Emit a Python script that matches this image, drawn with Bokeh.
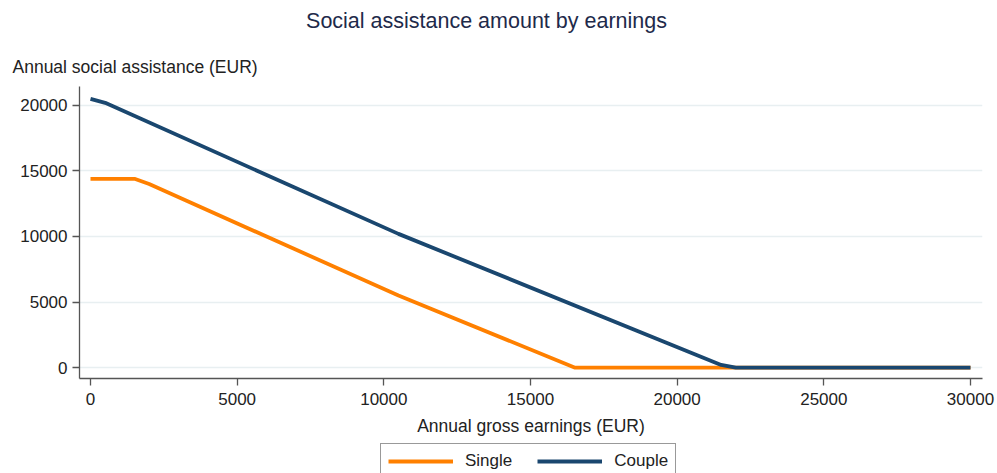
from bokeh.plotting import figure
from bokeh.models import Range1d, Label, Title, Legend, LegendItem
from bokeh.layouts import column
from bokeh.embed import file_html
from bokeh.resources import INLINE

# ---- data ----
earnings_single = [0, 1500, 2000, 10500, 16500, 30000]
assist_single = [14400, 14400, 14000, 5500, 0, 0]
earnings_couple = [0, 500, 10500, 21500, 22000, 30000]
assist_couple = [20500, 20200, 10200, 200, 0, 0]
x_ticks = [0, 5000, 10000, 15000, 20000, 25000, 30000]
y_ticks = [0, 5000, 10000, 15000, 20000]
series_names = ["Single", "Couple"]

title_text = "Social assistance amount by earnings"
ylabel_text = "Annual social assistance (EUR)"
xlabel_text = "Annual gross earnings (EUR)"

FONT = "Liberation Sans"
ORANGE = "#ff8000"
NAVY = "#1a476f"
TXT = "#222222"
AX = "#555555"
W = 997

# ---- header strip: main title ----
head = figure(width=W, height=45, output_backend="svg", toolbar_location=None,
              x_axis_location=None, y_axis_location=None, title=None,
              min_border_left=0, min_border_right=0, min_border_top=0, min_border_bottom=0)
head.outline_line_color = None
head.grid.visible = False
head.add_layout(Label(x=407, y=25, x_units="screen", y_units="screen", text=title_text,
                      text_font=FONT, text_font_size="21.5px", text_color="#1e2a4a",
                      text_align="center", text_baseline="middle"))

# ---- main chart ----
p = figure(width=W, height=398, output_backend="svg", toolbar_location=None,
           x_range=Range1d(-375, 30410), y_range=Range1d(-836, 21445),
           min_border_left=79, min_border_right=15, min_border_top=40, min_border_bottom=65,
           title=None)
p.outline_line_color = None
p.background_fill_color = "white"
p.border_fill_color = "white"

r1 = p.line(earnings_single, assist_single, line_color=ORANGE, line_width=3.8)
r2 = p.line(earnings_couple, assist_couple, line_color=NAVY, line_width=3.8)

p.xgrid.visible = False
p.ygrid.ticker = y_ticks
p.ygrid.grid_line_color = "#e8eff1"
p.ygrid.grid_line_width = 1.5

for ax in (p.xaxis[0], p.yaxis[0]):
    ax.axis_line_color = AX
    ax.axis_line_width = 1.3
    ax.major_tick_line_color = AX
    ax.major_tick_line_width = 1.3
    ax.major_tick_out = 7
    ax.major_tick_in = 0
    ax.minor_tick_line_color = None
    ax.major_label_text_font = FONT
    ax.major_label_text_font_size = "17px"
    ax.major_label_text_color = TXT

p.xaxis.major_label_standoff = 7
p.yaxis.major_label_standoff = 5
p.xaxis.ticker = x_ticks
p.yaxis.ticker = y_ticks
p.yaxis.major_label_orientation = "horizontal"
p.xaxis.axis_label = xlabel_text
p.xaxis.axis_label_text_font = FONT
p.xaxis.axis_label_text_font_size = "17.5px"
p.xaxis.axis_label_text_font_style = "normal"
p.xaxis.axis_label_text_color = TXT
p.xaxis.axis_label_standoff = 8

# y-axis title above the frame, left aligned
p.add_layout(Title(text=ylabel_text, align="left", offset=-67, standoff=19,
                   text_font=FONT, text_font_size="17.5px", text_font_style="normal",
                   text_color=TXT), "above")

# ---- legend strip below the chart ----
leg = figure(width=W, height=30, output_backend="svg", toolbar_location=None,
             x_axis_location=None, y_axis_location=None, title=None,
             x_range=Range1d(0, 1), y_range=Range1d(1e6, 1e6 + 1),
             min_border_left=0, min_border_right=0, min_border_top=0, min_border_bottom=0)
leg.outline_line_color = None
leg.grid.visible = False
k1 = leg.line(earnings_single, assist_single, line_color=ORANGE, line_width=3.8)
k2 = leg.line(earnings_couple, assist_couple, line_color=NAVY, line_width=3.8)

legend = Legend(items=[LegendItem(label=series_names[0], renderers=[k1]),
                       LegendItem(label=series_names[1], renderers=[k2])],
                orientation="horizontal", location=(301, -6),
                label_text_font=FONT, label_text_font_size="17px", label_text_color=TXT,
                glyph_width=65, glyph_height=20, label_standoff=12, spacing=25,
                padding=7, margin=0, border_line_color="#333333", border_line_width=1.2,
                background_fill_color="white", background_fill_alpha=1.0)
leg.add_layout(legend)

layout = column(head, p, leg, spacing=0)
open("out.html", "w").write(file_html(layout, INLINE))
